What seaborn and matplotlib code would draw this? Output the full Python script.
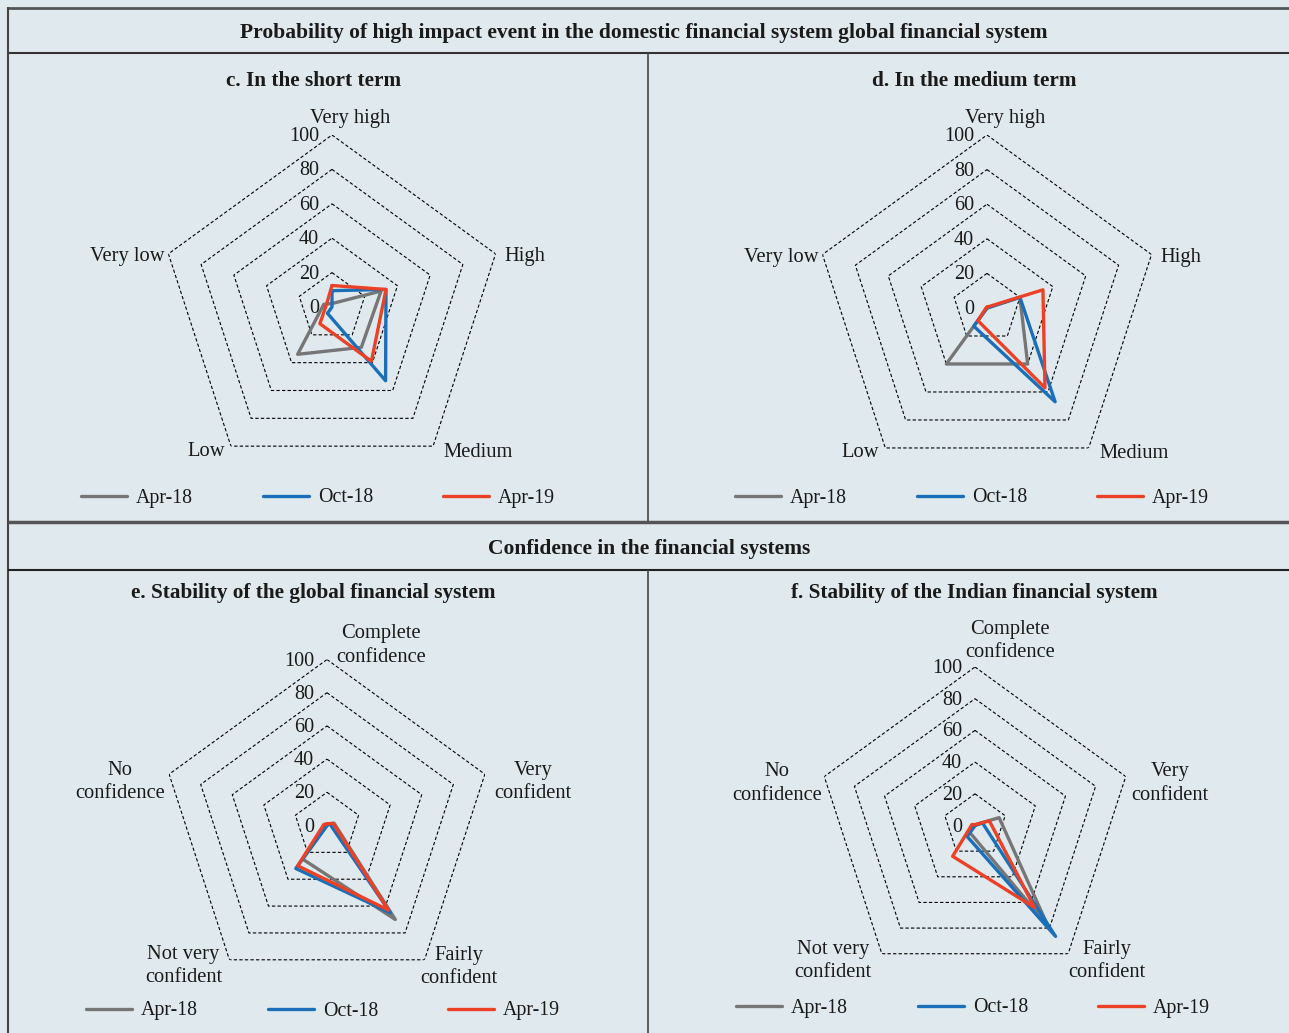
import numpy as np
import pandas as pd
import seaborn as sns
import matplotlib.pyplot as plt
from matplotlib.lines import Line2D

# survey rounds and colours
surveys = ["Apr-18", "Oct-18", "Apr-19"]
colors = ["#767676", "#1a6fb8", "#ec4126"]

risk_labels = ["Very high", "High", "Medium", "Low", "Very low"]
conf_labels = ["Complete\nconfidence", "Very\nconfident", "Fairly\nconfident",
               "Not very\nconfident", "No\nconfidence"]
ring_levels = [0, 20, 40, 60, 80, 100]

# c. short term (Very high, High, Medium, Low, Very low)
short_apr18 = [2, 30, 29, 34, 5]
short_oct18 = [9.5, 33, 53, 4.5, 0]
short_apr19 = [12.5, 33, 39, 12, 3.5]

# d. medium term
medium_apr18 = [0, 20, 40, 40, 0]
medium_oct18 = [0, 20, 67, 13, 0]
medium_apr19 = [0.5, 34, 57, 9, 0.5]

# e. global financial system (Complete, Very, Fairly, Not very, No)
global_apr18 = [1, 4.5, 70, 25, 0]
global_oct18 = [0.5, 2, 65, 32, 0]
global_apr19 = [1, 4, 63, 30, 2]

# f. Indian financial system
indian_apr18 = [0.5, 16, 78, 5.5, 0]
indian_oct18 = [0, 5, 86.5, 8.5, 0]
indian_apr19 = [0.5, 9.5, 64, 24, 2]

W, H = 1289, 1033
BG = "#e0eaee"

sns.set_style("white")
plt.rcParams["font.family"] = ["Liberation Serif", "DejaVu Serif"]
plt.rcParams["text.color"] = "#1a1a1a"

fig = plt.figure(figsize=(W / 100, H / 100), dpi=100, facecolor=BG)


def pt(v):
    # pixels -> points at dpi 100
    return v * 0.72


def fline(x0, y0, x1, y1, lw, color):
    fig.add_artist(Line2D([x0 / W, x1 / W], [1 - y0 / H, 1 - y1 / H],
                          transform=fig.transFigure, lw=lw, color=color,
                          solid_capstyle="butt"))


def radar(cx, cy, R, labels, series, offsets, sub, sub_x, sub_y, leg_x, leg_y):
    ax = fig.add_axes([(cx - R) / W, (H - cy - R) / H, 2 * R / W, 2 * R / H],
                      projection="polar")
    ax.set_theta_offset(np.pi / 2)
    ax.set_theta_direction(-1)
    ax.patch.set_alpha(0)
    ax.grid(False)
    ax.spines["polar"].set_visible(False)

    theta = np.linspace(0, 2 * np.pi, len(labels) + 1)

    # dashed pentagon rings
    for lvl in ring_levels[1:]:
        ax.plot(theta, [lvl] * len(theta), color="black", lw=0.8,
                ls=(0, (3, 2)), zorder=1)

    rows = []
    for name, vals in zip(surveys, series):
        closed = list(vals) + [vals[0]]
        for t, v in zip(theta, closed):
            rows.append({"theta": t, "value": v, "survey": name})
    df = pd.DataFrame(rows)
    sns.lineplot(data=df, x="theta", y="value", hue="survey",
                 palette=dict(zip(surveys, colors)), sort=False,
                 estimator=None, lw=2.4, ax=ax, zorder=3)

    ax.set_ylim(0, 100)
    ax.set_xticks([])
    ax.set_yticks([])
    ax.set_xlabel("")
    ax.set_ylabel("")

    for lvl in ring_levels:
        ax.annotate(str(lvl), xy=(0, lvl), xytext=(pt(-13), -pt(1.5)),
                    textcoords="offset points", ha="right", va="center",
                    fontsize=14.5)

    for t, lbl, (dx, dy) in zip(theta[:-1], labels, offsets):
        ax.annotate(lbl, xy=(t, 100), xytext=(pt(dx), -pt(dy + 2)),
                    textcoords="offset points", ha="center", va="center",
                    multialignment="center", linespacing=1.3, fontsize=14.8)

    fig.text(sub_x / W, 1 - (sub_y + 2) / H, sub, ha="center", va="center",
             fontsize=15.3, fontweight="bold")

    handles, names = ax.get_legend_handles_labels()
    ax.get_legend().remove()
    ax.legend(handles, names, loc="center", bbox_to_anchor=(leg_x / W, 1 - (leg_y + 2) / H),
              bbox_transform=fig.transFigure, ncol=3, frameon=False, fontsize=14.3,
              handlelength=2.3, handletextpad=0.45, columnspacing=3.55)
    return ax


risk_off = [(18, -18), (29, 1), (45, 4), (-25, 3), (-41, 1)]
conf_off_e = [(54, -16), (48, 6), (34, 5), (-46, 4), (-49, 6)]
conf_off_f = [(35, -28), (44, 5), (39, 5), (-49, 5), (-47, 5)]

radar(332, 307, 172, risk_labels, [short_apr18, short_oct18, short_apr19],
      risk_off, "c. In the short term", 313.5, 79, 318, 496)
radar(987, 308, 173, risk_labels, [medium_apr18, medium_oct18, medium_apr19],
      risk_off, "d. In the medium term", 974, 79, 972, 496)
radar(327, 825.5, 166, conf_labels, [global_apr18, global_oct18, global_apr19],
      conf_off_e, "e. Stability of the global financial system", 313.5, 591, 323, 1009)
radar(975, 825.5, 158.5, conf_labels, [indian_apr18, indian_oct18, indian_apr19],
      conf_off_f, "f. Stability of the Indian financial system", 974, 591, 973, 1006)

# header bands
fig.text(644 / W, 1 - 33 / H,
         "Probability of high impact event in the domestic financial system global financial system",
         ha="center", va="center", fontsize=15.5, fontweight="bold")
fig.text(649.5 / W, 1 - 549 / H, "Confidence in the financial systems",
         ha="center", va="center", fontsize=15.5, fontweight="bold")

# frame lines
fline(7.5, 8, W, 8, 2.0, "#555555")
fline(7.5, 53, W, 53, 1.5, "#333333")
fline(7.5, 7, 7.5, H, 1.5, "#444444")
fline(648, 53, 648, 521, 1.2, "#444444")
fline(7.5, 521.5, W, 521.5, 2.5, "#555555")
fline(7.5, 570, W, 570, 1.5, "#222222")
fline(648, 570, 648, H, 1.2, "#444444")

fig.savefig("out.png", dpi=100, facecolor=BG)
